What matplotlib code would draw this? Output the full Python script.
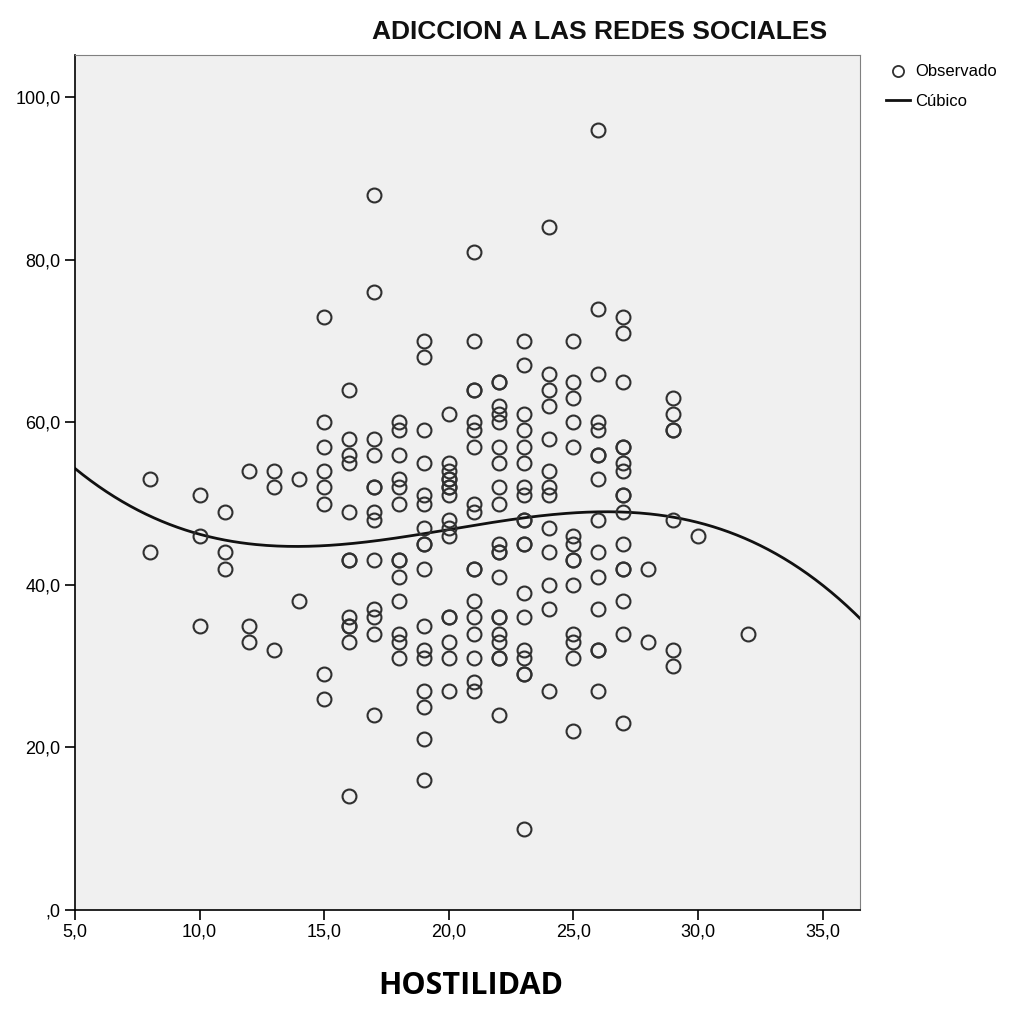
import matplotlib
matplotlib.use("Agg")
import matplotlib.pyplot as plt
import numpy as np
from matplotlib.lines import Line2D

# observed values, grouped by HOSTILIDAD score
hostilidad_vals = [8, 10, 11, 12, 13, 14, 15, 16, 17, 18, 19, 20, 21, 22, 23,
                   24, 25, 26, 27, 28, 29, 30, 32]
adiccion_by_x = [
    [53, 44],
    [51, 46, 35],
    [49, 44, 42],
    [54, 35, 33],
    [54, 52, 32],
    [53, 38],
    [73, 60, 57, 54, 52, 50, 29, 26],
    [64, 58, 56, 55, 49, 43, 43, 36, 35, 35, 33, 14],
    [88, 76, 58, 56, 52, 52, 49, 48, 43, 37, 36, 34, 24],
    [60, 59, 56, 53, 52, 50, 43, 43, 41, 38, 34, 33, 31],
    [70, 68, 59, 55, 51, 50, 47, 45, 45, 42, 35, 32, 31, 27, 25, 21, 16],
    [61, 55, 54, 53, 53, 52, 52, 51, 48, 47, 46, 36, 36, 33, 31, 27],
    [81, 70, 64, 64, 60, 59, 57, 50, 49, 42, 42, 38, 36, 34, 31, 28, 27],
    [65, 65, 62, 61, 60, 57, 55, 52, 50, 45, 44, 44, 41, 36, 36, 34, 33, 31, 31, 24],
    [70, 67, 61, 59, 57, 55, 52, 51, 48, 48, 45, 45, 39, 36, 32, 31, 29, 29, 10],
    [84, 66, 64, 62, 58, 54, 52, 51, 47, 44, 40, 37, 27],
    [70, 65, 63, 60, 57, 46, 45, 43, 43, 40, 34, 33, 31, 22],
    [96, 74, 66, 60, 59, 56, 56, 53, 48, 44, 41, 37, 32, 32, 27],
    [73, 71, 65, 57, 57, 55, 54, 51, 51, 49, 45, 42, 42, 38, 34, 23],
    [42, 33],
    [63, 61, 59, 59, 48, 32, 30],
    [46],
    [34],
]

x = np.concatenate([[h] * len(v) for h, v in zip(hostilidad_vals, adiccion_by_x)]).astype(float)
y = np.concatenate(adiccion_by_x).astype(float)

xlim = (5, 36.5)
ylim = (0, 105.2)
xticks = [5, 10, 15, 20, 25, 30, 35]
xticklabels = ["5,0", "10,0", "15,0", "20,0", "25,0", "30,0", "35,0"]
yticks = [0, 20, 40, 60, 80, 100]
yticklabels = [",0", "20,0", "40,0", "60,0", "80,0", "100,0"]

plt.rcParams['font.family'] = ['Liberation Sans', 'DejaVu Sans']

fig = plt.figure(figsize=(10.29, 10.14), dpi=100)
ax = fig.add_axes([0.0729, 0.1026, 0.7629, 0.8432])
ax.set_facecolor("#f0f0f0")

ax.plot(x, y, linestyle="none", marker="o", markersize=10, markerfacecolor="none",
        markeredgecolor="#303030", markeredgewidth=1.5, zorder=3)

# cubic fit
coef = np.polyfit(x, y, 3)
xs = np.linspace(xlim[0], xlim[1], 300)
ax.plot(xs, np.polyval(coef, xs), color="#111111", linewidth=2, zorder=2)

ax.set_xlim(*xlim)
ax.set_ylim(*ylim)
ax.set_xticks(xticks)
ax.set_xticklabels(xticklabels)
ax.set_yticks(yticks)
ax.set_yticklabels(yticklabels)
ax.tick_params(axis="both", direction="out", length=7, width=1.2, labelsize=13, color="black")
ax.tick_params(axis="x", pad=3)
for s in ["top", "right"]:
    ax.spines[s].set_color("#808080")
for s in ["left", "bottom"]:
    ax.spines[s].set_color("black")
    ax.spines[s].set_linewidth(1.2)

fig.text(0.5826, 0.968, "ADICCION A LAS REDES SOCIALES", ha="center", va="center",
         fontsize=19, fontweight="bold", color="#111111")
fig.text(0.457, 0.028, "HOSTILIDAD", ha="center", va="center", fontsize=22,
         fontweight="bold", family=["Open Sans", "DejaVu Sans"])

handles = [
    Line2D([], [], linestyle="none", marker="o", markersize=8, markerfacecolor="none",
           markeredgecolor="#303030", markeredgewidth=1.3),
    Line2D([], [], color="#111111", linewidth=2),
]
fig.legend(handles, ["Observado", "Cúbico"], loc="upper left",
           bbox_to_anchor=(0.855, 0.943), frameon=False, fontsize=12,
           handlelength=1.4, handletextpad=0.3, labelspacing=0.85, borderaxespad=0)

fig.savefig("out.png", dpi=100, facecolor="white")
